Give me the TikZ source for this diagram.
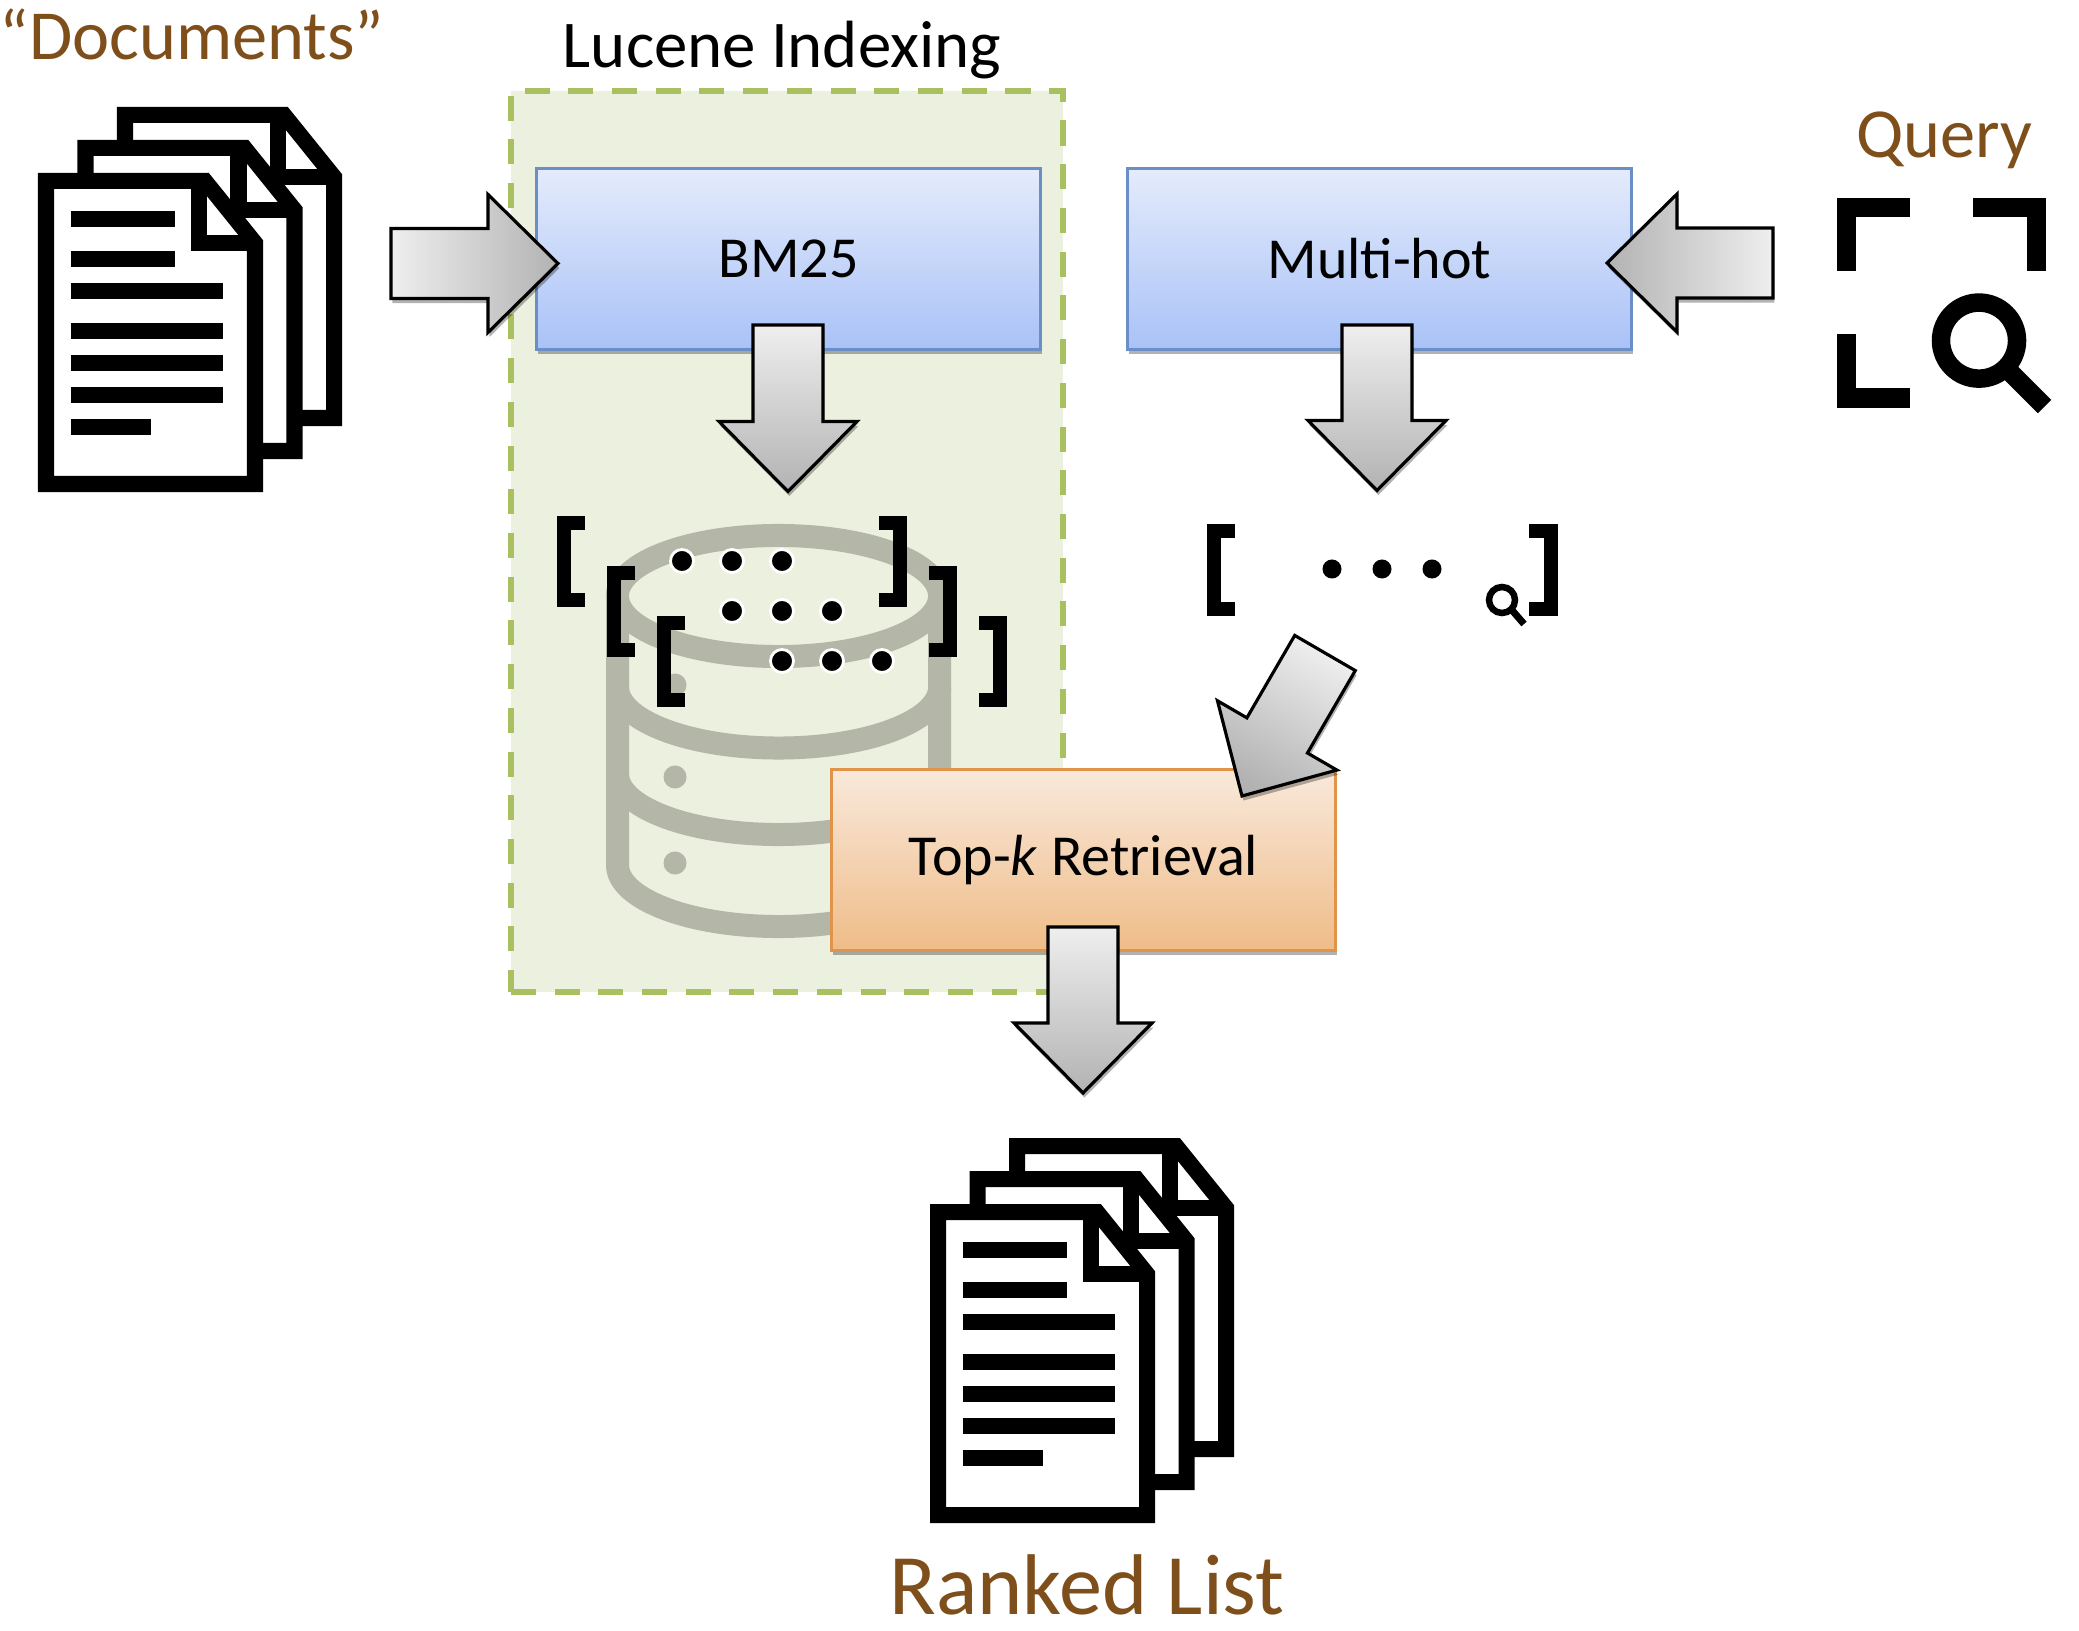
\documentclass[tikz,border=0pt]{standalone}
\usepackage{fontspec}
\setmainfont{Carlito}
\definecolor{lucenegreen}{RGB}{236,240,223}
\definecolor{lucenedash}{RGB}{169,192,96}
\definecolor{dbgray}{RGB}{180,183,168}
\definecolor{labelbrown}{RGB}{127,79,27}
\definecolor{blueedge}{RGB}{108,142,198}
\definecolor{bluetop}{RGB}{228,235,252}
\definecolor{bluebot}{RGB}{169,194,247}
\definecolor{orangeedge}{RGB}{224,148,74}
\definecolor{orangetop}{RGB}{249,233,219}
\definecolor{orangebot}{RGB}{239,188,136}
\usetikzlibrary{calc,shadows}
\tikzset{
    softshadow/.style={drop shadow={shadow xshift=.4pt,shadow yshift=-1.3pt,opacity=.3,fill=black}},
    procbox/.style={rectangle,minimum width=5.04cm,minimum height=1.81cm,line width=.85pt,font=\fontsize{16.5}{20}\selectfont,softshadow},
    bluebox/.style={procbox,draw=blueedge,top color=bluetop,bottom color=bluebot},
    orangebox/.style={procbox,draw=orangeedge,top color=orangetop,bottom color=orangebot},
    titlelbl/.style={font=\fontsize{20}{24}\selectfont,inner sep=0pt},
    bracketline/.style={line width=.14cm,black},
    dbline/.style={line width=.23cm,dbgray},
    dot/.style={circle,fill=black,inner sep=0pt,minimum size=.18cm},
    ringdot/.style={dot,draw=white,line width=.8pt,minimum size=.23cm},
    fatarrow/.style={draw=black,line width=.9pt,line join=miter,top color=gray!13,bottom color=gray!60,
        shading angle=#1,softshadow,
        to path={let \p1=($(\tikztotarget)!0.7cm!(\tikztostart)$) in
            ($(\tikztostart)!0.35cm!90:(\tikztotarget)$) -- ($(\p1)!0.35cm!90:(\tikztotarget)$)
            -- ($(\p1)!0.69cm!90:(\tikztotarget)$) -- (\tikztotarget)
            -- ($(\p1)!0.69cm!-90:(\tikztotarget)$) -- ($(\p1)!0.35cm!-90:(\tikztotarget)$)
            -- ($(\tikztostart)!0.35cm!-90:(\tikztotarget)$) -- cycle}},
    docstack/.pic={
        \foreach \dx/\dy in {79/-66,39.5/-33,0/0}{
            \draw[line width=.16cm,line join=miter,fill=white,shift={(\dx,\dy)}]
                (46,181) -- (205,181) -- (255,243) -- (255,484) -- (46,484) -- cycle;
            \draw[line width=.16cm,line join=miter,shift={(\dx,\dy)}]
                (199,181) -- (199,243) -- (255,243);
        }
        \foreach \ly/\lx in {219/175,259/175,291/223,331/223,363/223,395/223,427/151}
            \draw[line width=.16cm] (71,\ly) -- (\lx,\ly);
    }
}
\begin{document}
\begin{tikzpicture}[x=0.01cm,y=-0.01cm]
    \useasboundingbox (0,0) rectangle (2079,1631);

    \node[draw=lucenedash,fill=lucenegreen,line width=1.6pt,dash pattern=on 25*0.2845pt off 18.7*0.2845pt,
          minimum width=5.52cm,minimum height=9.01cm,inner sep=0pt]
          (lucene) at (787,541.5) {};
    \node[titlelbl,font=\fontsize{19}{23}\selectfont] (lucenelbl) at (782,50) {Lucene Indexing};
    \node[titlelbl,text=labelbrown] (docslbl) at (192,34) {“Documents”};
    \node[titlelbl,text=labelbrown] (querylbl) at (1944,140) {Query};
    \node[titlelbl,text=labelbrown,font=\fontsize{24.5}{29}\selectfont] (rankedlbl) at (1087,1585) {Ranked List};

    \pic (docsin) at (0,0) {docstack};
    \pic (docsout) at (892,1031) {docstack};

    \draw[dbline] (778.5,596) ellipse (1.61cm and .605cm);
    \draw[dbline] (617.5,596) -- (617.5,865) arc[start angle=180,end angle=360,x radius=1.61cm,y radius=.615cm]
        -- (939.5,596);
    \draw[dbline] (617.5,687) arc[start angle=180,end angle=360,x radius=1.61cm,y radius=.61cm];
    \draw[dbline] (617.5,774) arc[start angle=180,end angle=360,x radius=1.61cm,y radius=.605cm];
    \foreach \gy in {685,777,863}
        \fill[dbgray] (675,\gy) circle (.115cm);

    \foreach \bx/\by in {0/0,50/50,100/100}{
        \draw[bracketline,shift={(\bx,\by)}] (585,523) -- (563.5,523) -- (563.5,600) -- (585,600);
        \draw[bracketline,shift={(\bx,\by)}] (879,523) -- (900,523) -- (900,600) -- (879,600);
    }
    \foreach \dname/\dpos in {a1/{682,561},a2/{732,561},a3/{782,561},
                              b1/{732,611},b2/{782,611},b3/{832,611},
                              c1/{782,661},c2/{832,661},c3/{882,661}}
        \node[ringdot] (\dname) at (\dpos) {};

    \node[bluebox] (bm25) at (788.5,259) {BM25};
    \node[bluebox] (multihot) at (1379.5,259) {Multi-hot};
    \node[orangebox] (topk) at (1083.5,860) {Top-\textit{k} Retrieval};

    \draw[bracketline] (1235,531) -- (1214,531) -- (1214,609) -- (1235,609);
    \draw[bracketline] (1529,531) -- (1550.5,531) -- (1550.5,609) -- (1529,609);
    \node[dot,minimum size=.19cm] (q1) at (1332,569) {};
    \node[dot,minimum size=.19cm] (q2) at (1382,569) {};
    \node[dot,minimum size=.19cm] (q3) at (1432,569) {};
    \draw[line width=.065cm] (1502,600) circle (.13cm);
    \draw[line width=.07cm] (1511,609) -- (1524,624);

    \draw[line width=.19cm] (1910,207.5) -- (1846,207.5) -- (1846,271);
    \draw[line width=.19cm] (1973,207.5) -- (2036.5,207.5) -- (2036.5,271);
    \draw[line width=.19cm] (1846,334) -- (1846,398) -- (1910,398);
    \draw[line width=.185cm] (1979,340.6) circle (.38cm);
    \draw[line width=.19cm] (2008,370) -- (2044.5,406.5);

    \coordinate (docstail) at (391,263.5);
    \coordinate (bmtip) at (558,263.5);
    \coordinate (bmtail) at (788,325);
    \coordinate (dbtip) at (788,491.5);
    \coordinate (querytail) at (1773,263);
    \coordinate (multitip) at (1607,263);
    \coordinate (multitail) at (1377,325);
    \coordinate (vectip) at (1377,490.5);
    \coordinate (vectail) at (1325,653);
    \coordinate (topktip) at (1242,796);
    \coordinate (topktail) at (1083,927);
    \coordinate (ranktip) at (1083,1093);

    \path[fatarrow=90] (docstail) to (bmtip);
    \path[fatarrow=0] (bmtail) to (dbtip);
    \path[fatarrow=-90] (querytail) to (multitip);
    \path[fatarrow=0] (multitail) to (vectip);
    \path[fatarrow=-30] (vectail) to (topktip);
    \path[fatarrow=0] (topktail) to (ranktip);
\end{tikzpicture}
\end{document}
